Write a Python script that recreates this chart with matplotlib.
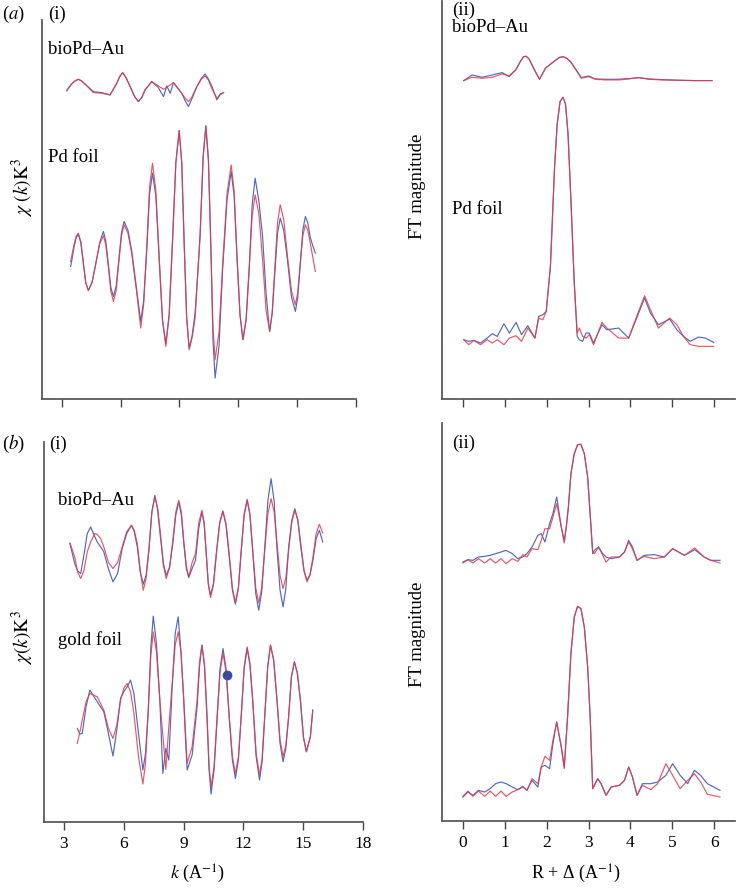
import numpy as np
import matplotlib
matplotlib.use("Agg")
import matplotlib.pyplot as plt

plt.rcParams['font.family'] = ['Liberation Serif', 'DejaVu Serif']
plt.rcParams['mathtext.fontset'] = 'stix'

# ---- (a)(i) EXAFS, bioPd-Au and Pd foil (arb. units, each curve centred) ----
a1_k_bio = [3.26, 3.51, 3.68, 3.85, 4.02, 4.24, 4.62, 5.04, 5.47, 5.81, 5.96, 6.11, 6.28,
            6.49, 6.72, 6.91, 7.08, 7.25, 7.59, 7.93, 8.19, 8.36, 8.53, 8.70, 9.12, 9.30,
            9.46, 9.65, 9.89, 10.12, 10.31, 10.48, 10.65, 10.91, 11.08, 11.25]
a1_bio_fit = [-7, 13, 22, 27, 22, 10, -13, -15, -20, 15, 35, 47, 32,
              5, -25, -40, -28, -5, 20, 7, -3, 3, 10, 17, -15, -30,
              -40, -25, 5, 27, 37, 25, 0, -30, -20, -13]
a1_bio_exp = [-7, 13, 22, 27, 22, 10, -10, -13, -20, 15, 35, 47, 32,
              5, -25, -40, -28, -5, 20, 2, -25, 7, -15, 17, -15, -38,
              -55, -30, 5, 30, 43, 28, 7, -35, -17, -13]

a1_k_pd = [3.46, 3.55, 3.63, 3.74, 3.85, 3.98, 4.11, 4.23, 4.36, 4.55,
           4.75, 4.94, 5.13, 5.25, 5.38, 5.51, 5.64, 5.78, 5.91, 6.05,
           6.18, 6.38, 6.57, 6.83, 7.03, 7.18, 7.34, 7.48, 7.63, 7.80,
           7.97, 8.14, 8.31, 8.48, 8.65, 8.82, 8.99, 9.12, 9.24, 9.37,
           9.50, 9.65, 9.80, 9.93, 10.06, 10.21, 10.35, 10.48, 10.60, 10.71,
           10.82, 11.02, 11.21, 11.43, 11.64, 11.79, 11.93, 12.09, 12.24, 12.40,
           12.56, 12.71, 12.86, 13.05, 13.24, 13.42, 13.60, 13.73, 13.87, 14.00,
           14.14, 14.32, 14.51, 14.71, 14.91, 15.03, 15.16, 15.29, 15.42, 15.54,
           15.67, 15.80, 15.93]
a1_pd_fit = [-52, -25, -2, 24, 33, 7, -57, -115, -139, -115,
             -57, 1, 25, -2, -67, -142, -172, -139, -57, 25,
             58, 33, -27, -147, -252, -181, -7, 171, 243, 162,
             -37, -229, -307, -214, 13, 246, 341, 246, 13, -221,
             -317, -280, -222, -95, 33, 262, 355, 253, 3, -246,
             -347, -263, -57, 152, 238, 161, -27, -212, -287, -223,
             -67, 86, 148, 91, -47, -200, -262, -205, -67, 64,
             118, 73, -37, -140, -182, -146, -57, 25, 58, 42,
             3, -40, -82]
a1_pd_exp = [-67, -38, -10, 19, 30, 4, -60, -117, -139, -115,
             -55, 5, 38, 10, -60, -131, -157, -126, -50, 34,
             68, 42, -20, -140, -232, -170, -15, 149, 213, 145,
             -45, -226, -300, -210, 5, 243, 341, 245, 10, -218,
             -312, -275, -207, -95, 30, 260, 355, 252, 0, -285,
             -402, -306, -70, 134, 218, 145, -35, -214, -287, -230,
             -75, 119, 198, 130, 23, -150, -262, -209, -80, 32,
             78, 41, -50, -158, -202, -161, -60, 42, 83, 65,
             20, -5, -27]

# ---- (a)(ii) Fourier transforms ----
a2_r_bio = [0.02, 0.22, 0.46, 0.70, 0.94, 1.10, 1.26, 1.38, 1.45, 1.51, 1.58, 1.73, 1.83,
            1.97, 2.17, 2.30, 2.39, 2.48, 2.57, 2.73, 2.83, 3.00, 3.16, 3.40, 3.72, 3.96,
            4.20, 4.44, 4.75, 5.15, 5.55, 5.95]
a2_bio_fit = [3, 13, 10, 13, 23, 17, 35, 62, 75, 76, 68, 30, 7,
              40, 60, 72, 75, 70, 60, 30, 10, 15, 7, 5, 5, 8,
              12, 7, 5, 4, 3, 3]
a2_bio_exp = [3, 20, 13, 20, 27, 15, 35, 62, 75, 76, 68, 30, 7,
              40, 60, 72, 75, 70, 60, 30, 12, 17, 8, 7, 7, 9,
              12, 8, 6, 4, 3, 3]

a2_r_pd = [0.02, 0.14, 0.26, 0.42, 0.58, 0.70, 0.82, 0.98, 1.11, 1.27,
           1.40, 1.55, 1.72, 1.81, 1.91, 1.99, 2.09, 2.19, 2.25, 2.32,
           2.39, 2.45, 2.51, 2.58, 2.66, 2.73, 2.78, 2.86, 2.94, 3.02,
           3.12, 3.32, 3.44, 3.72, 3.96, 4.12, 4.34, 4.48, 4.67, 4.94,
           5.11, 5.27, 5.43, 5.63, 5.79, 5.99]
a2_pd_fit = [20, 5, 18, 5, 20, 10, 20, 5, 25, 32,
             15, 55, 25, 85, 80, 105, 240, 540, 665, 735,
             748, 728, 640, 440, 190, 40, 55, 30, 25, 35,
             5, 72, 55, 25, 25, 80, 152, 110, 55, 85,
             65, 30, 5, 0, 0, 0]
a2_pd_exp = [20, 15, 18, 10, 25, 38, 30, 68, 40, 72,
             35, 62, 25, 90, 95, 105, 240, 540, 665, 735,
             748, 728, 640, 440, 190, 30, 20, 15, 40, 40,
             10, 65, 50, 55, 25, 75, 145, 100, 65, 82,
             50, 30, 15, 28, 25, 12]

# ---- (b)(i) EXAFS, bioPd-Au and gold foil ----
b1_k_bio = [3.30, 3.54, 3.69, 3.84, 4.00, 4.17, 4.34, 4.55, 4.67, 4.84,
            5.00, 5.23, 5.46, 5.69, 5.92, 6.15, 6.39, 6.53, 6.68, 6.83,
            6.98, 7.12, 7.26, 7.41, 7.56, 7.70, 7.84, 7.99, 8.13, 8.30,
            8.46, 8.61, 8.76, 8.89, 9.01, 9.14, 9.26, 9.43, 9.60, 9.76,
            9.92, 10.03, 10.13, 10.24, 10.35, 10.50, 10.65, 10.81, 10.97, 11.13,
            11.29, 11.45, 11.60, 11.75, 11.89, 12.04, 12.19, 12.33, 12.47, 12.62,
            12.77, 12.92, 13.07, 13.23, 13.39, 13.54, 13.69, 13.84, 13.99, 14.13,
            14.27, 14.43, 14.58, 14.73, 14.88, 15.04, 15.19, 15.34, 15.49, 15.65,
            15.81, 15.98]
b1_bio_fit = [22, -20, -66, -85, -62, -5, 25, 50, 48, 35,
              10, -36, -55, -37, 10, 56, 75, 59, 20, -65,
              -120, -85, 0, 114, 160, 128, 50, -46, -85, -52,
              30, 115, 150, 115, 30, -48, -80, -37, -10, 82,
              120, 85, 0, -101, -142, -104, -10, 81, 118, 81,
              -10, -114, -157, -111, 0, 109, 153, 109, 0, -112,
              -158, -112, 0, 110, 155, 116, 20, -76, -115, -82,
              0, 85, 120, 91, 20, -62, -95, -73, -20, 50,
              78, 52]
b1_bio_exp = [20, -40, -62, -70, -15, 50, 70, 40, 25, 10,
              -5, -55, -95, -70, 5, 50, 75, 55, 10, -65,
              -102, -75, 0, 115, 165, 120, 40, -40, -75, -50,
              20, 105, 145, 105, 20, -55, -82, -55, -30, 65,
              115, 80, -5, -100, -135, -100, -5, 82, 117, 75,
              -20, -120, -162, -115, -5, 105, 150, 105, -5, -130,
              -180, -125, 5, 150, 215, 150, 0, -120, -170, -115,
              10, 90, 125, 90, 10, -60, -90, -75, -30, 35,
              60, 25]

b1_k_au = [3.67, 3.80, 3.92, 4.11, 4.30, 4.67, 5.00, 5.23, 5.46, 5.65,
           5.84, 6.00, 6.17, 6.34, 6.51, 6.74, 6.96, 7.09, 7.23, 7.36,
           7.48, 7.64, 7.81, 7.96, 8.11, 8.26, 8.43, 8.58, 8.73, 8.87,
           9.01, 9.10, 9.18, 9.43, 9.68, 9.80, 9.92, 10.05, 10.18, 10.28,
           10.38, 10.53, 10.68, 10.83, 10.98, 11.13, 11.29, 11.45, 11.60, 11.75,
           11.89, 12.04, 12.19, 12.33, 12.47, 12.64, 12.81, 12.94, 13.07, 13.22,
           13.36, 13.52, 13.69, 13.84, 13.99, 14.13, 14.27, 14.41, 14.56, 14.71,
           14.86, 15.01, 15.16, 15.36, 15.48]
b1_au_fit = [-100, -65, -30, 25, 50, 40, 0, -55, -85, -45,
             30, 65, 80, 55, -10, -140, -222, -160, 0, 165,
             235, 175, 30, -75, -178, -50, 80, 195, 235, 175,
             30, -70, -160, -110, 30, 145, 195, 140, -20, -170,
             -230, -170, -20, 115, 170, 115, -20, -140, -190, -140,
             -20, 130, 190, 140, 30, -130, -195, -145, -20, 130,
             195, 150, 30, -90, -140, -105, -20, 100, 145, 110,
             30, -80, -125, -80, 0]
b1_au_exp = [-55, -72, -70, 10, 60, 25, -5, -70, -138, -60,
             35, 55, 70, 90, 50, -70, -180, -130, 0, 190,
             282, 200, 30, -190, -115, -150, 70, 230, 280, 175,
             30, -90, -180, -135, 10, 130, 195, 130, -30, -180,
             -252, -180, -30, 125, 185, 125, -20, -150, -205, -150,
             -20, 125, 185, 135, 25, -140, -210, -155, -20, 130,
             195, 150, 25, -100, -155, -115, -20, 100, 145, 110,
             30, -80, -125, -80, 0]
b1_marker = (11.18, 105)

# ---- (b)(ii) Fourier transforms ----
b2_r_bio = [0.00, 0.12, 0.24, 0.37, 0.52, 0.65, 0.78, 0.91, 1.03, 1.18,
            1.31, 1.43, 1.53, 1.65, 1.79, 1.87, 1.96, 2.07, 2.15, 2.24,
            2.35, 2.42, 2.47, 2.52, 2.58, 2.66, 2.74, 2.82, 2.90, 2.98,
            3.06, 3.10, 3.14, 3.24, 3.34, 3.42, 3.54, 3.74, 3.86, 3.96,
            4.05, 4.16, 4.33, 4.57, 4.81, 5.01, 5.29, 5.54, 5.76, 5.92, 6.14]
b2_bio_fit = [2, 12, 2, 15, 2, 15, 2, 15, 0, 15,
              7, 27, 20, 45, 42, 70, 105, 105, 140, 180,
              110, 62, 110, 170, 270, 330, 357, 358, 330, 260,
              110, 35, 30, 50, 25, 5, 20, 20, 35, 65,
              45, 10, 22, 15, 20, 45, 25, 47, 20, 10, 2]
b2_bio_exp = [5, 12, 10, 20, 22, 25, 30, 35, 40, 30,
              15, 20, 30, 50, 85, 90, 65, 120, 150, 200,
              110, 68, 112, 170, 270, 330, 357, 358, 330, 260,
              110, 30, 40, 50, 30, 20, 15, 20, 35, 70,
              50, 10, 25, 27, 20, 45, 25, 42, 20, 10, 10]

b2_r_au = [0.00, 0.12, 0.24, 0.37, 0.52, 0.65, 0.78, 0.91, 1.03, 1.18,
           1.31, 1.43, 1.53, 1.65, 1.79, 1.87, 1.96, 2.07, 2.15, 2.24,
           2.35, 2.42, 2.50, 2.58, 2.66, 2.74, 2.82, 2.90, 2.98, 3.04,
           3.10, 3.22, 3.30, 3.42, 3.54, 3.74, 3.86, 3.96, 4.05, 4.16,
           4.29, 4.49, 4.65, 4.85, 5.01, 5.19, 5.37, 5.53, 5.68, 5.84, 6.14]
b2_au_fit = [2, 18, 2, 18, 2, 18, 2, 18, 2, 15,
             22, 32, 20, 55, 40, 90, 122, 110, 170, 225,
             150, 85, 240, 430, 540, 572, 565, 510, 390, 240,
             25, 55, 40, 5, 30, 35, 50, 90, 60, 5,
             35, 22, 40, 100, 65, 25, 50, 70, 45, 8, 0]
b2_au_exp = [0, 15, 5, 20, 15, 25, 40, 45, 40, 30,
             22, 30, 20, 50, 30, 90, 95, 85, 160, 225,
             150, 90, 240, 430, 540, 572, 565, 510, 390, 240,
             25, 55, 40, 5, 30, 35, 50, 90, 60, 5,
             40, 40, 45, 65, 100, 65, 40, 80, 65, 40, 20]

# vertical offsets used to stack the curves
off_a1 = {'bio': 933, 'pd': 465}
off_a2 = {'bio': 953, 'pd': 158}
off_b1 = {'bio': 816, 'au': 336}
off_b2 = {'bio': 772, 'au': 72}

k_ticks = [3, 6, 9, 12, 15, 18]
r_ticks = [0, 1, 2, 3, 4, 5, 6]

BLUE = '#5068c4'
RED = '#e8384a'
W, H = 745, 888

fig = plt.figure(figsize=(W / 100, H / 100), dpi=100)


def axes_px(left, top, right, bottom):
    return fig.add_axes([left / W, 1 - bottom / H, (right - left) / W, (bottom - top) / H])


def style(ax, ticks, labels=True):
    for s in ['top', 'right']:
        ax.spines[s].set_visible(False)
    for s in ['left', 'bottom']:
        ax.spines[s].set_color('#5a5a5a')
        ax.spines[s].set_linewidth(1.3)
    ax.set_yticks([])
    ax.set_xticks(ticks)
    ax.tick_params(axis='x', direction='out', length=6, width=1.0, color='#444444',
                   labelsize=12.5, pad=4, labelbottom=labels)
    ax.patch.set_alpha(0)


def pair(ax, x, exp, fit, off):
    ax.plot(x, np.array(exp) + off, color=BLUE, lw=0.85)
    ax.plot(x, np.array(fit) + off, color=RED, lw=0.85, alpha=0.85)


# (a)(i)
ax1 = axes_px(42, 20, 356, 399)
pair(ax1, a1_k_bio, a1_bio_exp, a1_bio_fit, off_a1['bio'])
pair(ax1, a1_k_pd, a1_pd_exp, a1_pd_fit, off_a1['pd'])
ax1.set_xlim(2, 18)
ax1.set_ylim(0, 1138)
style(ax1, k_ticks, labels=False)

# (a)(ii)
ax2 = axes_px(442, 1, 735, 399)
pair(ax2, a2_r_bio, a2_bio_exp, a2_bio_fit, off_a2['bio'])
pair(ax2, a2_r_pd, a2_pd_exp, a2_pd_fit, off_a2['pd'])
ax2.set_xlim(-0.5, 6.5)
ax2.set_ylim(0, 1195)
style(ax2, r_ticks, labels=False)

# (b)(i)
ax3 = axes_px(44, 442, 363, 822)
pair(ax3, b1_k_bio, b1_bio_exp, b1_bio_fit, off_b1['bio'])
pair(ax3, b1_k_au, b1_au_exp, b1_au_fit, off_b1['au'])
ax3.plot(b1_marker[0], b1_marker[1] + off_b1['au'], 'o', color='#3a4a9c', ms=6)
ax3.set_xlim(2, 18)
ax3.set_ylim(0, 1141)
style(ax3, k_ticks)

# (b)(ii)
ax4 = axes_px(442, 423, 735, 821)
pair(ax4, b2_r_bio, b2_bio_exp, b2_bio_fit, off_b2['bio'])
pair(ax4, b2_r_au, b2_au_exp, b2_au_fit, off_b2['au'])
ax4.set_xlim(-0.5, 6.5)
ax4.set_ylim(0, 1194)
style(ax4, r_ticks)


def txt(x, y, s, **kw):
    kw.setdefault('fontsize', 13.5)
    fig.text(x / W, 1 - y / H, s, va='center', **kw)


txt(2, 14, '($a$)')
txt(48, 14, '(i)')
txt(452, 10, '(ii)')
txt(452, 28, 'bioPd–Au')
txt(48, 50, 'bioPd–Au')
txt(48, 157, 'Pd foil')
txt(452, 210, 'Pd foil')

txt(2, 444, '($b$)')
txt(49, 444, '(i)')
txt(452, 443, '(ii)')
txt(58, 500, 'bioPd–Au')
txt(58, 640, 'gold foil')

txt(23, 187, r'$\chi\ (k)\mathrm{K}^3$', rotation=90, ha='center', fontsize=14)
txt(23, 638, r'$\chi(k)\mathrm{K}^3$', rotation=90, ha='center', fontsize=14)
txt(418, 186, 'FT magnitude', rotation=90, ha='center')
txt(418, 634, 'FT magnitude', rotation=90, ha='center')

txt(197, 874, r'$k$ (A$^{-1}$)', ha='center', fontsize=13)
txt(576, 874, r'R + Δ (A$^{-1}$)', ha='center', fontsize=13)

fig.savefig('out.png', dpi=100)
